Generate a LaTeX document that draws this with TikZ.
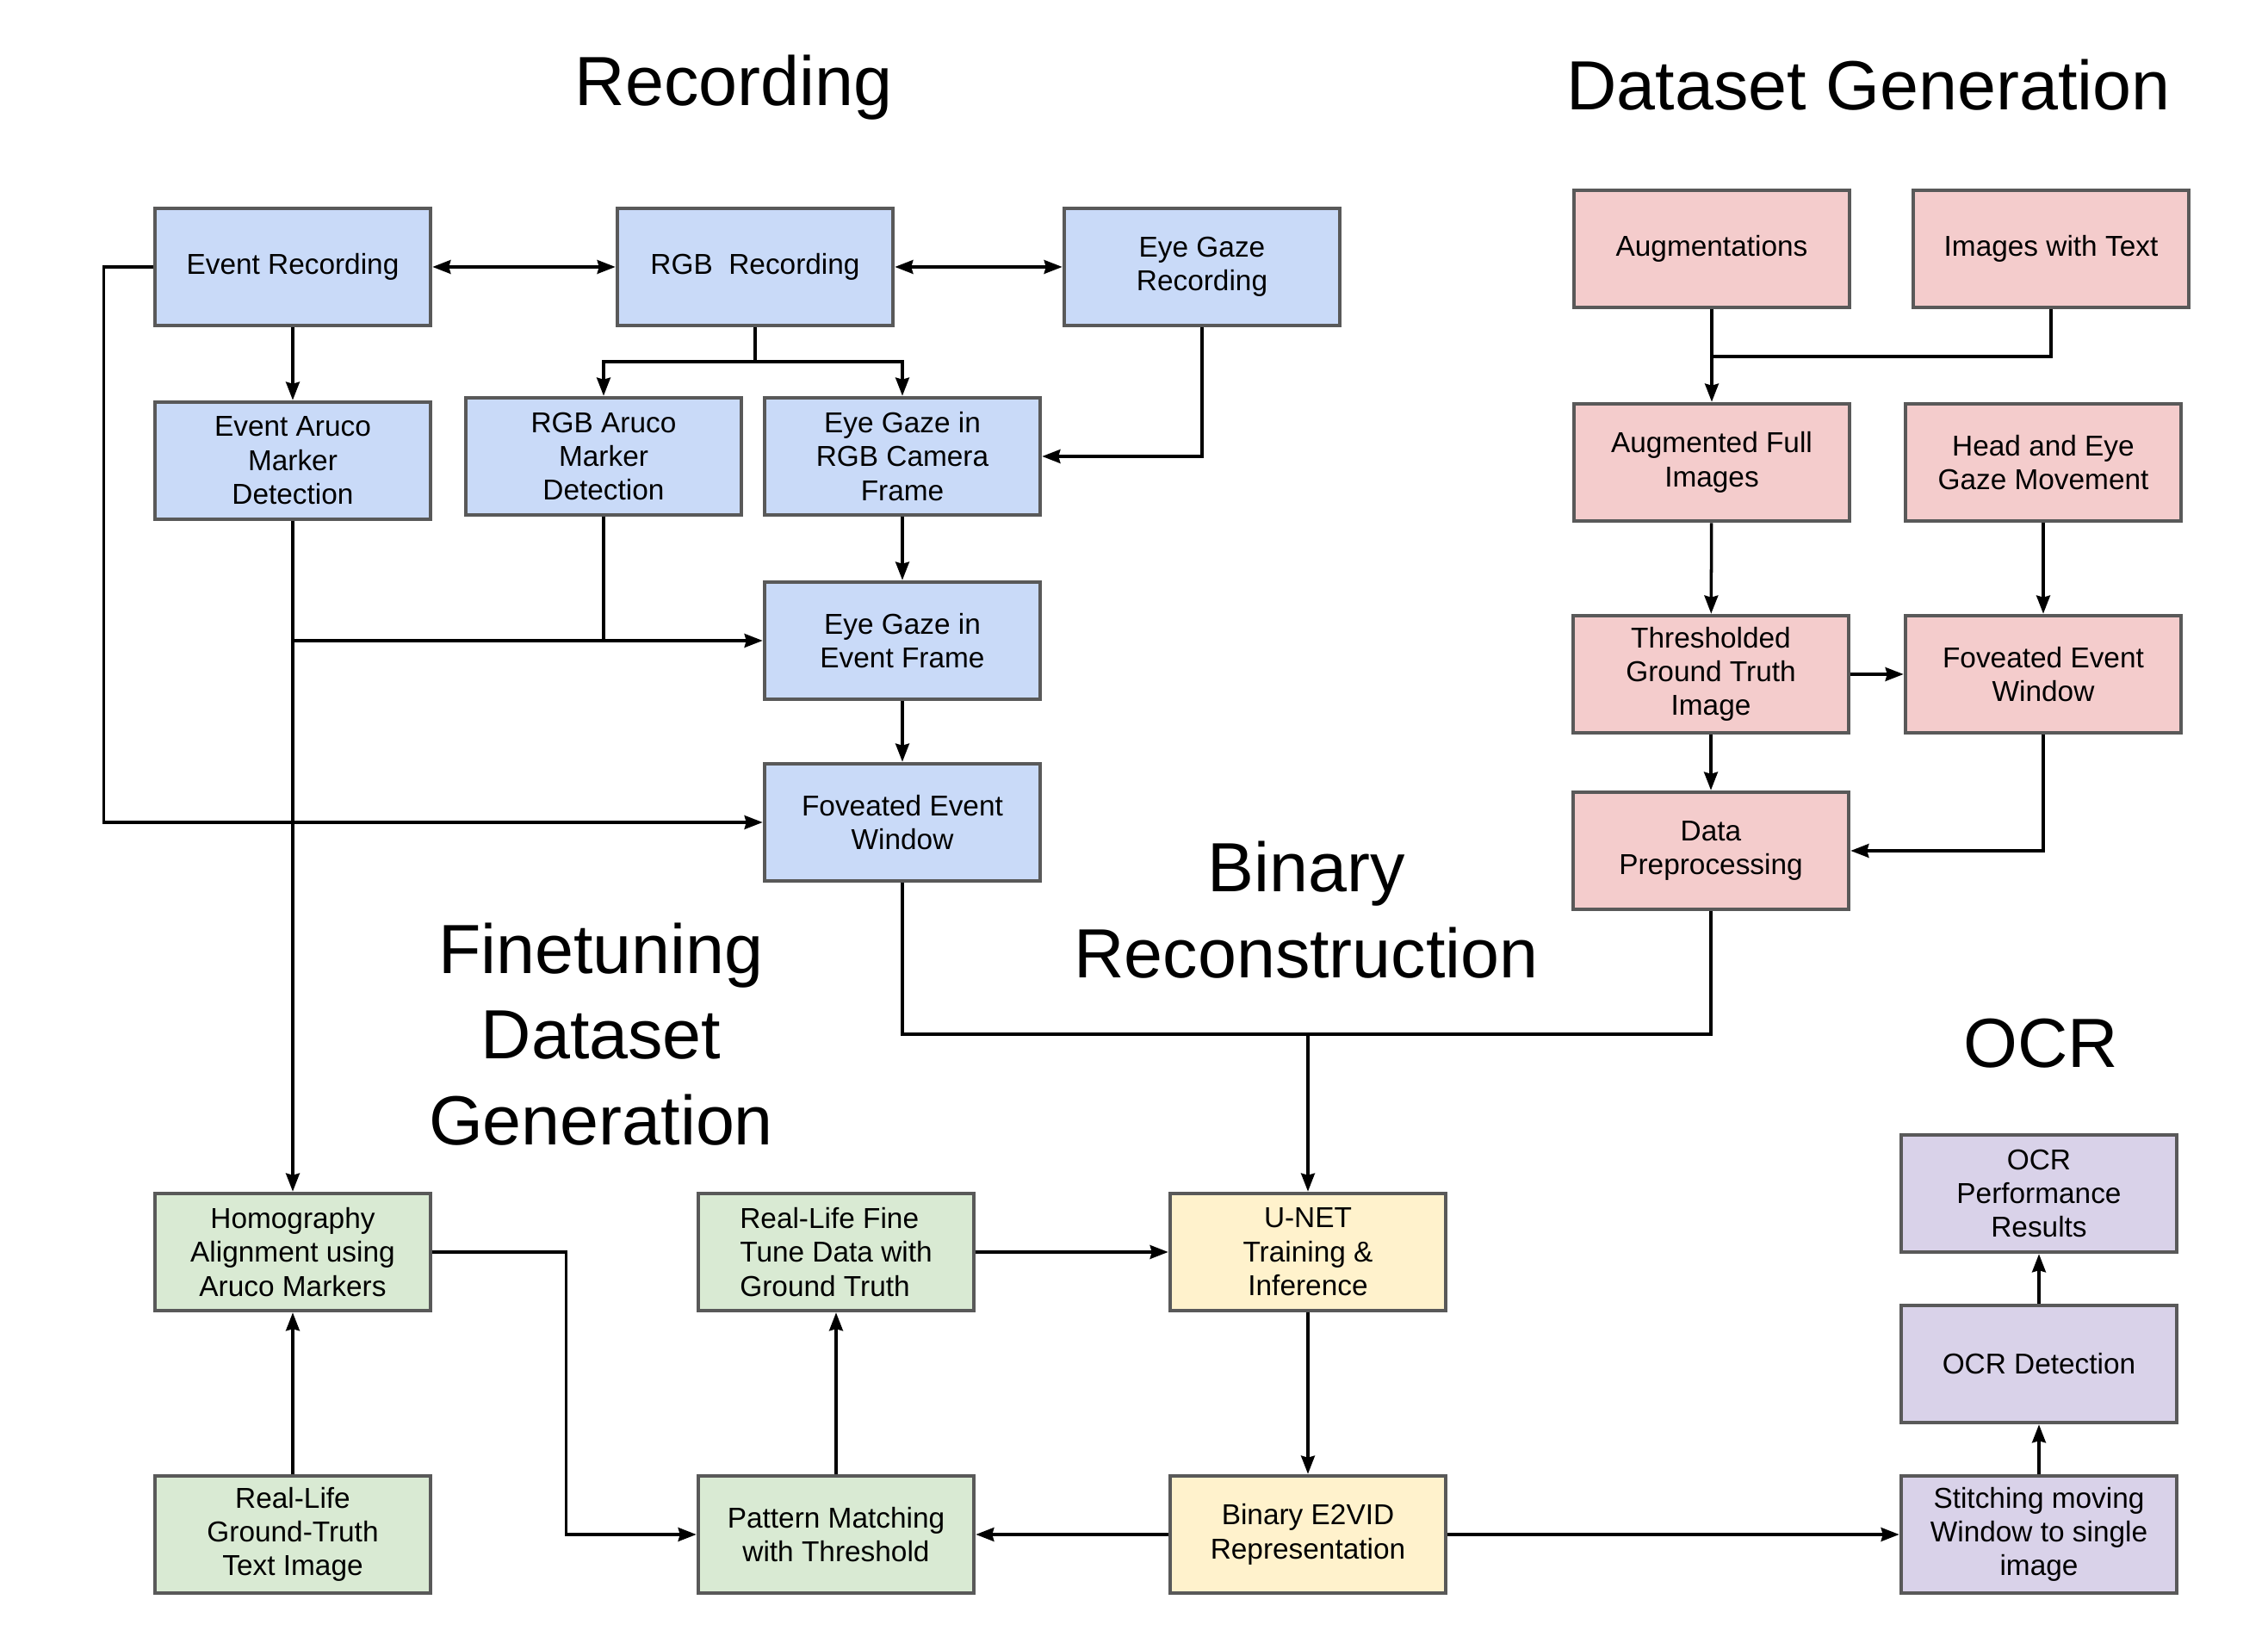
\documentclass[tikz,border=0pt]{standalone}
\usepackage{fontspec}
\setmainfont{Liberation Sans}
\usepackage{tikz}
\usetikzlibrary{calc, positioning}
\usetikzlibrary{arrows.meta}
\tikzset{>={Stealth[length=6pt,width=4.5pt,inset=0.6pt]}}
\usepackage{xcolor}
\definecolor{myblue}{HTML}{C9DAF8}
\definecolor{myred}{HTML}{F4CCCC}
\definecolor{mygreen}{HTML}{D9EAD3}
\definecolor{myyellow}{HTML}{FFF2CC}
\definecolor{mypurple}{HTML}{D9D2E9}
\definecolor{mygray}{HTML}{595959}
\tikzset{
	box/.style={draw=mygray, line width=1.3pt, minimum width=3.2cm, minimum height=1.36cm, align=center, inner sep=2pt, font=\fontsize{9.5}{11.2}\selectfont},
	bluebox/.style={box, fill=myblue},
	redbox/.style={box, fill=myred},
	greenbox/.style={box, fill=mygreen},
	yellowbox/.style={box, fill=myyellow},
	purplebox/.style={box, fill=mypurple},
	title/.style={font=\fontsize{23}{28.4}\selectfont, align=center},
	link/.style={line width=1pt}
}

\begin{document}
\begin{tikzpicture}
				\useasboundingbox (0,0) rectangle (26.34,19.08);
				% titles
				\node[title, anchor=base] (trec) at (8.52,17.85) {Recording};
				\node[title, anchor=base] (tdata) at (21.70,17.80) {Dataset Generation};
				\node[title] (tbin) at (15.17,8.51) {Binary\\Reconstruction};
				\node[title] (tfine) at (6.98,7.07) {Finetuning\\Dataset\\Generation};
				\node[title, anchor=base] (tocr) at (23.70,6.68) {OCR};
				% recording
				\node[bluebox] (evrec) at (3.40,15.98) {Event Recording};
				\node[bluebox] (rgbrec) at (8.77,15.98) {RGB~ Recording};
				\node[bluebox] (gazerec) at (13.96,15.98) {Eye Gaze\\Recording};
				\node[bluebox] (evaruco) at (3.40,13.73) {Event Aruco\\Marker\\Detection};
				\node[bluebox] (rgbaruco) at (7.01,13.78) {RGB Aruco\\Marker\\Detection};
				\node[bluebox] (gazergb) at (10.48,13.78) {Eye Gaze in\\RGB Camera\\Frame};
				\node[bluebox] (gazeev) at (10.48,11.64) {Eye Gaze in\\Event Frame};
				\node[bluebox] (fovev) at (10.48,9.53) {Foveated Event\\Window};
				% dataset generation
				\node[redbox] (augm) at (19.88,16.19) {Augmentations};
				\node[redbox] (imgtext) at (23.82,16.19) {Images with Text};
				\node[redbox] (augfull) at (19.88,13.71) {Augmented Full\\Images};
				\node[redbox] (headeye) at (23.73,13.71) {Head and Eye\\Gaze Movement};
				\node[redbox] (thresh) at (19.87,11.25) {Thresholded\\Ground Truth\\Image};
				\node[redbox] (fovred) at (23.73,11.25) {Foveated Event\\Window};
				\node[redbox] (preproc) at (19.87,9.20) {Data\\Preprocessing};
				% finetuning dataset generation
				\node[greenbox] (homog) at (3.40,4.54) {Homography\\Alignment using\\Aruco Markers};
				\node[greenbox] (reallife) at (3.40,1.26) {Real-Life\\Ground-Truth\\Text Image};
				\node[greenbox, align=left] (finetune) at (9.71,4.54) {Real-Life Fine\\Tune Data with\\Ground Truth};
				\node[greenbox] (pattern) at (9.71,1.26) {Pattern Matching\\with Threshold};
				% binary reconstruction
				\node[yellowbox] (unet) at (15.19,4.54) {U-NET\\Training \&\\Inference};
				\node[yellowbox] (e2vid) at (15.19,1.26) {Binary E2VID\\Representation};
				% ocr
				\node[purplebox] (ocrres) at (23.68,5.22) {OCR\\Performance\\Results};
				\node[purplebox] (ocrdet) at (23.68,3.24) {OCR Detection};
				\node[purplebox] (stitch) at (23.68,1.26) {Stitching moving\\Window to single\\image};
				% recording links
				\draw[link, <->] (evrec) -- (rgbrec);
				\draw[link, <->] (rgbrec) -- (gazerec);
				\draw[link, ->] (evrec) -- (evaruco);
				\coordinate (rgbsplit) at (8.77,14.88);
				\draw[link] (rgbrec) -- (rgbsplit);
				\draw[link, ->] (rgbsplit) -| (rgbaruco);
				\draw[link, ->] (rgbsplit) -| (gazergb);
				\draw[link, ->] (gazerec) |- (gazergb);
				\draw[link, ->] (gazergb) -- (gazeev);
				\draw[link, ->] (gazeev) -- (fovev);
				\draw[link, ->] (evaruco) -- (homog);
				\draw[link, ->] (evaruco |- gazeev) -- (gazeev);
				\draw[link] (rgbaruco) -- (rgbaruco |- gazeev);
				\draw[link, ->] (evrec.west) -- ++(-0.57,0) |- (fovev);
				% dataset links
				\coordinate (augjoin) at (19.88,14.94);
				\draw[link] (imgtext) |- (augjoin);
				\draw[link, ->] (augm) -- (augfull);
				\draw[link, ->] (augfull) -- (thresh);
				\draw[link, ->] (headeye) -- (fovred);
				\draw[link, ->] (thresh) -- (fovred);
				\draw[link, ->] (thresh) -- (preproc);
				\draw[link, ->] (fovred) |- (preproc);
				% merge into u-net
				\coordinate (merge) at (15.19,7.07);
				\draw[link] (fovev) |- (merge);
				\draw[link] (preproc) |- (merge);
				\draw[link, ->] (merge) -- (unet);
				% finetuning and ocr links
				\draw[link, ->] (reallife) -- (homog);
				\draw[link, ->] (homog.east) -- ++(1.55,0) |- (pattern);
				\draw[link, ->] (pattern) -- (finetune);
				\draw[link, ->] (finetune) -- (unet);
				\draw[link, ->] (unet) -- (e2vid);
				\draw[link, ->] (e2vid) -- (pattern);
				\draw[link, ->] (e2vid) -- (stitch);
				\draw[link, ->] (stitch) -- (ocrdet);
				\draw[link, ->] (ocrdet) -- (ocrres);
			\end{tikzpicture}
\end{document}
